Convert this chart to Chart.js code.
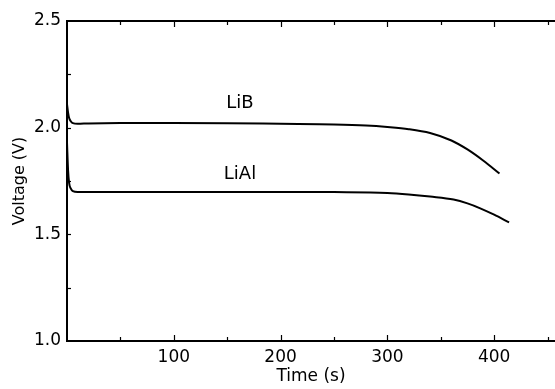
<!DOCTYPE html>
<html>
<head>
<meta charset="utf-8">
<script src="https://cdn.jsdelivr.net/npm/chart.js@4.4.1/dist/chart.umd.min.js"></script>
<style>
  html, body { margin: 0; padding: 0; background: #ffffff; }
  #wrap { width: 555px; height: 389px; }
</style>
</head>
<body>
<div id="wrap"><canvas id="c" width="555" height="389"></canvas></div>
<script>
// ---- Data ----
const timeLiB    = [0, 1, 2, 3.5, 5.5, 10, 20, 50, 100, 150, 200, 250, 280, 300, 320, 340, 360, 375, 390, 405];
const voltLiB    = [2.11, 2.07, 2.045, 2.03, 2.021, 2.018, 2.02, 2.022, 2.022, 2.021, 2.018, 2.015, 2.01, 2.003, 1.993, 1.975, 1.94, 1.898, 1.845, 1.785];
const timeLiAl   = [0, 1, 2, 3.5, 5.5, 10, 50, 100, 200, 250, 300, 320, 340, 362, 375, 387, 400, 414];
const voltLiAl   = [1.93, 1.80, 1.74, 1.715, 1.702, 1.698, 1.698, 1.699, 1.699, 1.698, 1.694, 1.687, 1.677, 1.663, 1.645, 1.622, 1.592, 1.556];
const seriesNames = ["LiB", "LiAl"];
const labelTimes  = [162, 162];
const labelVolts  = [2.113, 1.779];
const xTickLabels = [100, 200, 300, 400];
const yTickLabels = [1.0, 1.5, 2.0, 2.5];
const xMinorTicks = [50, 100, 150, 200, 250, 300, 350, 400, 450];
const yMinorTicks = [1.25, 1.5, 1.75, 2.0, 2.25];
const xRange = [0, 457];
const yRange = [1.0, 2.5];

const toPts = (xs, ys) => xs.map((x, i) => ({ x: x, y: ys[i] }));

const FONT = "'DejaVu Sans', 'Liberation Sans', sans-serif";

const framePlugin = {
  id: 'frame',
  afterDraw(chart) {
    const ctx = chart.ctx;
    const xs = chart.scales.x, ys = chart.scales.y;
    const area = chart.chartArea;
    ctx.save();
    ctx.strokeStyle = '#000';
    // top border
    ctx.lineWidth = 2;
    ctx.beginPath();
    ctx.moveTo(area.left, area.top);
    ctx.lineTo(area.right, area.top);
    ctx.stroke();
    // inward ticks
    ctx.lineWidth = 1.2;
    xMinorTicks.forEach(v => {
      const px = Math.round(xs.getPixelForValue(v)) + 0.5;
      const len = (v % 100 === 0) ? 6 : 4;
      ctx.beginPath();
      ctx.moveTo(px, area.bottom);
      ctx.lineTo(px, area.bottom - len);
      ctx.moveTo(px, area.top);
      ctx.lineTo(px, area.top + len);
      ctx.stroke();
    });
    yMinorTicks.forEach(v => {
      const py = Math.round(ys.getPixelForValue(v)) + 0.5;
      const len = 4;
      ctx.beginPath();
      ctx.moveTo(area.left, py);
      ctx.lineTo(area.left + len, py);
      ctx.stroke();
    });
    // series labels
    ctx.fillStyle = '#000';
    ctx.font = "18px " + FONT;
    ctx.textAlign = 'center';
    ctx.textBaseline = 'middle';
    seriesNames.forEach((n, i) => {
      ctx.fillText(n, xs.getPixelForValue(labelTimes[i]), ys.getPixelForValue(labelVolts[i]));
    });
    ctx.restore();
  }
};

new Chart(document.getElementById('c'), {
  type: 'line',
  data: {
    datasets: [
      { label: seriesNames[0], data: toPts(timeLiB, voltLiB), borderColor: '#000', borderWidth: 2, pointRadius: 0, cubicInterpolationMode: 'monotone', fill: false },
      { label: seriesNames[1], data: toPts(timeLiAl, voltLiAl), borderColor: '#000', borderWidth: 2, pointRadius: 0, cubicInterpolationMode: 'monotone', fill: false }
    ]
  },
  options: {
    responsive: false,
    animation: false,
    devicePixelRatio: 1,
    layout: { padding: { top: 21, right: 0, left: 0, bottom: 0 } },
    plugins: { legend: { display: false }, tooltip: { enabled: false } },
    scales: {
      x: {
        type: 'linear',
        min: xRange[0], max: xRange[1],
        afterFit(s) { s.height = 48; },
        afterBuildTicks(s) { s.ticks = xTickLabels.map(v => ({ value: v })); },
        grid: { display: false, drawTicks: false },
        border: { display: true, color: '#000', width: 2 },
        ticks: { color: '#000', font: { family: FONT, size: 17 }, padding: 6, maxRotation: 0, autoSkip: false, callback: v => String(v) },
        title: { display: true, text: 'Time (s)', color: '#000', font: { family: FONT, size: 17 }, padding: { top: 0, bottom: 2 } }
      },
      y: {
        type: 'linear',
        min: yRange[0], max: yRange[1],
        afterFit(s) { s.width = 67; },
        afterBuildTicks(s) { s.ticks = yTickLabels.map(v => ({ value: v })); },
        grid: { display: false, drawTicks: false },
        border: { display: true, color: '#000', width: 2 },
        ticks: { color: '#000', font: { family: FONT, size: 17 }, padding: 6, autoSkip: false, callback: v => Number(v).toFixed(1) },
        title: { display: true, text: 'Voltage (V)', color: '#000', font: { family: FONT, size: 16 }, padding: { top: 10, bottom: 0 } }
      }
    }
  },
  plugins: [framePlugin]
});
</script>
</body>
</html>
